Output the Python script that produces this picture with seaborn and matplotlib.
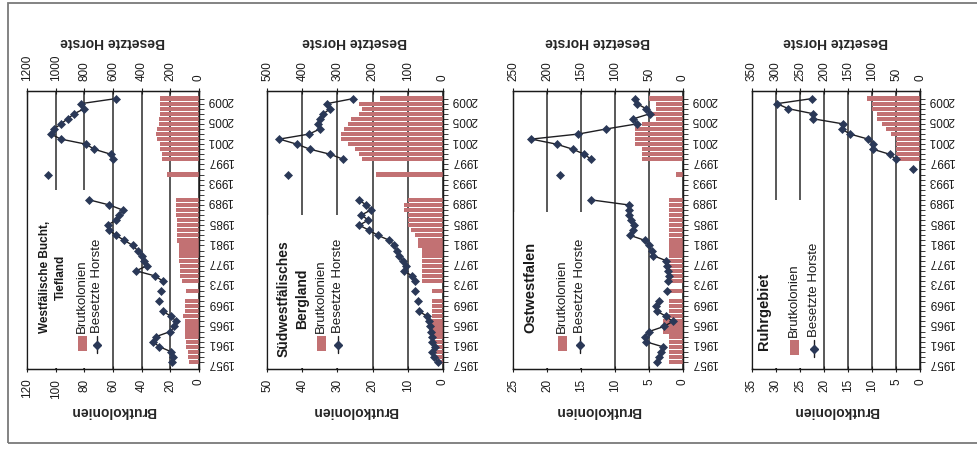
import numpy as np
import pandas as pd
import matplotlib
matplotlib.use("Agg")
import matplotlib.pyplot as plt
import seaborn as sns
from matplotlib.patches import Rectangle
from matplotlib.lines import Line2D

nan = np.nan

# ---------------- data ----------------
years = list(range(1957, 2010))
year_labels = ["1957", "1961", "1965", "1969", "1973", "1977", "1981",
               "1985", "1989", "1993", "1997", "2001", "2005", "2009"]

region_titles = ["Westfälische Bucht,\nTiefland", "Südwestfälisches\nBergland",
                 "Ostwestfalen", "Ruhrgebiet"]
label_brut = "Brutkolonien"
label_horste = "Besetzte Horste"

# Westfälische Bucht, Tiefland
brut_westf_bucht = [7, 8, 8, 9, 9, 10, 10, 10, 10, 11,
                    10, 10, 10, nan, 9, nan, 12, 13, 13, 13,
                    14, 14, 14, 14, 15, 15, 15, 15, 15, 16,
                    16, 16, 16, nan, nan, nan, nan, 22, nan, nan,
                    26, 26, 27, 27, 29, 30, 29, 28, 28, 27,
                    27, 27, 27]
horste_westf_bucht = [190, 183, 194, 276, 323, 299, 200, 171, 159, 194,
                      253, nan, 276, nan, 264, nan, 253, 310, 440, 360,
                      385, 400, 428, 463, 520, 580, 625, 638, 580, 556,
                      533, 626, 766, nan, nan, nan, nan, 1055, nan, nan,
                      603, 614, 731, 789, 964, 1034, 1010, 964, 917, 871,
                      801, 824, 580]

# Südwestfälisches Bergland
brut_suedwestf = [2, 2, 2, 2, 3, 3, 3, 3, 3, 3,
                  3, 3, 3, nan, 3, nan, 6, 6, 6, 6,
                  6, 6, 6, 7, 7, 8, 9, 10, 10, 10,
                  11, 11, 10, nan, nan, nan, nan, 19, nan, nan,
                  23, 24, 25, 27, 29, 29, 28, 27, 26, 24,
                  23, 24, 18]
horste_suedwestf = [15, 25, 30, 22, 32, 30, 35, 38, 40, 45,
                    68, nan, 70, nan, 80, nan, 80, 88, 112, 105,
                    115, 126, 132, 138, 152, 185, 210, 238, 212, 232,
                    205, 218, 240, nan, nan, nan, nan, 440, nan, nan,
                    283, 320, 378, 415, 465, 380, 350, 355, 350, 340,
                    320, 330, 255]

# Ostwestfalen
brut_ostwestf = [2, 2, 2, 2, 2, 2, 3, 3, 3, 2,
                 2, 2, 2, nan, 2, nan, 2, 2, 2, 2,
                 2, 2, 2, 2, 2, 2, 2, 2, 2, 2,
                 2, 2, 2, nan, nan, nan, nan, 1, nan, nan,
                 6, 6, 6, 7, 7, 7, 7, 6, 4, 5,
                 4, 4, 5]
horste_ostwestf = [38, 35, 32, 30, 55, 56, 50, 28, 15, 25,
                   38, 40, 36, nan, 24, nan, 22, 20, 22, 24,
                   25, 44, 46, 50, 56, 78, 74, 72, 76, 79,
                   80, 80, 135, nan, nan, nan, nan, 181, nan, nan,
                   135, 145, 162, 186, 223, 154, 113, 68, 73, 49,
                   54, 68, 71]

# Ruhrgebiet
brut_ruhr = [nan] * 40 + [5, 5, 5, 5, 5, 6, 7, 8, 9, 9, 10, 10, 11]
horste_ruhr = [nan] * 38 + [15, nan] + [50, 63, 98, 98, 108, 146, 163, 160,
                                        222, 222, 274, 298, 225]

brut_series = [brut_westf_bucht, brut_suedwestf, brut_ostwestf, brut_ruhr]
horste_series = [horste_westf_bucht, horste_suedwestf, horste_ostwestf, horste_ruhr]
brut_max = [120, 50, 25, 35]
brut_step = [20, 10, 5, 5]
horste_max = [1200, 500, 250, 350]
horste_step = [200, 100, 50, 50]

# ---------------- layout / style ----------------
W, H = 977, 450
BAR = "#C27173"
LINE = "#1E1E22"
MARK = "#2A3857"
INK = "#1A1A1A"
MS = 3.6

sns.set_theme(style="white")
plt.rcParams["font.family"] = ["Liberation Sans", "DejaVu Sans"]
plt.rcParams["text.color"] = INK
plt.rcParams["xtick.color"] = INK
plt.rcParams["ytick.color"] = INK


def fx(x):
    return x / W


def fy(y):
    return 1 - y / H


def segment_ids(vals):
    ids, s, prev_nan = [], 0, True
    for v in vals:
        if np.isnan(v):
            ids.append(-1)
            prev_nan = True
        else:
            if prev_nan:
                s += 1
            prev_nan = False
            ids.append(s)
    return ids


fig = plt.figure(figsize=(W / 100, H / 100), dpi=100)
fig.patch.set_facecolor("white")

panel_x = [(27, 199), (267, 443), (513, 683), (752, 920)]
top, bot = 91, 369
legend_box = [(105, 190), (347, 215), (590, 212), (822, 200)]
title_pos = [(53, 333, 8.5), (293, 357, 10), (530, 333, 10.5), (764, 350, 10.5)]
legend_pos = [(82, 97, 333), (321, 338, 333), (562, 580, 333), (794, 814, 337)]

for i in range(4):
    x0, x1 = panel_x[i]
    ax = fig.add_axes([fx(x0), fy(bot), (x1 - x0) / W, (bot - top) / H])
    df = pd.DataFrame({"year": years, "brut": brut_series[i], "horste": horste_series[i]})

    sns.barplot(data=df, x="brut", y="year", orient="h", native_scale=True,
                color=BAR, saturation=1, width=0.84, errorbar=None,
                linewidth=0, ax=ax, zorder=2)
    ax.set_xlim(brut_max[i], 0)
    ax.set_ylim(1955.6, 2010.5)
    ax.set_axisbelow(True)
    ax.grid(axis="x", color="#2b2b2b", lw=1.1)
    ax.grid(axis="y", visible=False)

    bt = np.arange(0, brut_max[i] + 1, brut_step[i])
    ax.set_xticks(bt)
    ax.set_xticklabels([str(v) for v in bt], rotation=90, fontsize=8.5)
    ax.tick_params(axis="x", direction="inout", length=5, width=0.8, pad=4.5,
                   bottom=True, top=False)
    ax.set_xlabel(label_brut, rotation=180, fontsize=10, fontweight="bold")
    ax.xaxis.set_label_coords(0.5, -(404 - bot) / (bot - top))

    ax.yaxis.tick_right()
    ax.set_yticks(years)
    ax.set_yticklabels([str(y) if str(y) in year_labels else "" for y in years],
                       rotation=180, fontsize=8.5)
    ax.tick_params(axis="y", direction="out", length=3.5, width=0.6, pad=2.5,
                   right=True, left=False)
    ax.set_ylabel("")
    for sp in ax.spines.values():
        sp.set_color(INK)
        sp.set_linewidth(0.9)
        sp.set_visible(True)

    ax2 = ax.twiny()
    dl = df.copy()
    dl["seg"] = segment_ids(df["horste"].values)
    dl = dl[dl["seg"] >= 0]
    sns.lineplot(data=dl, x="horste", y="year", units="seg", estimator=None,
                 sort=False, orient="y", color=LINE, lw=1.0, marker="D",
                 markersize=MS, markerfacecolor=MARK, markeredgecolor=MARK,
                 markeredgewidth=0.5, legend=False, ax=ax2, zorder=4)
    ax2.set_xlim(horste_max[i], 0)
    ax2.set_ylim(1955.6, 2010.5)
    ht = np.arange(0, horste_max[i] + 1, horste_step[i])
    ax2.set_xticks(ht)
    ax2.set_xticklabels([str(v) for v in ht], rotation=90, fontsize=8.5)
    ax2.tick_params(axis="x", direction="inout", length=5, width=0.8, pad=4.5)
    ax2.set_xlabel(label_horste, rotation=180, fontsize=10, fontweight="bold")
    ax2.xaxis.set_label_coords(0.5, 1 + (top - 46) / (bot - top))
    ax2.set_ylabel("")
    for sp in ax2.spines.values():
        sp.set_color(INK)
        sp.set_linewidth(0.9)

    # white legend area (covers gridlines, like the original legend box)
    bx, by = legend_box[i]
    ax2.add_patch(Rectangle((fx(x0 + 1), fy(bot - 1)), (bx - x0 - 1) / W,
                            (bot - 1 - by) / H, transform=fig.transFigure,
                            facecolor="white", edgecolor="none", zorder=1,
                            clip_on=False))

    # title
    tx, ty, tfs = title_pos[i]
    fig.text(fx(tx), fy(ty), region_titles[i], rotation=90, ha="center",
             va="bottom", multialignment="center", fontsize=tfs,
             fontweight="bold", linespacing=1.35, zorder=6)

    # legend entries
    px_, lx_, sy = legend_pos[i]
    fig.add_artist(Rectangle((fx(px_ - 4.5), fy(sy + 18)), 9 / W, 15 / H,
                             transform=fig.transFigure, facecolor=BAR,
                             edgecolor="none", zorder=6))
    fig.text(fx(px_), fy(sy), label_brut, rotation=90, ha="center", va="bottom",
             fontsize=9.5, zorder=6)
    fig.add_artist(Line2D([fx(lx_), fx(lx_)], [fy(sy + 20), fy(sy + 3)],
                          transform=fig.transFigure, color=LINE, lw=1.0, zorder=6))
    fig.add_artist(Line2D([fx(lx_)], [fy(sy + 11.5)], transform=fig.transFigure,
                          marker="D", markersize=MS, color=MARK, lw=0, zorder=7))
    fig.text(fx(lx_), fy(sy), label_horste, rotation=90, ha="center", va="bottom",
             fontsize=9.5, zorder=6)

# outer frame of the scanned figure
fig.add_artist(Rectangle((fx(8), fy(443)), (990 - 8) / W, (443 - 3) / H,
                         transform=fig.transFigure, fill=False,
                         edgecolor="#7a7a7a", lw=1.3, zorder=0))

fig.savefig("out.png", dpi=100, facecolor="white")
